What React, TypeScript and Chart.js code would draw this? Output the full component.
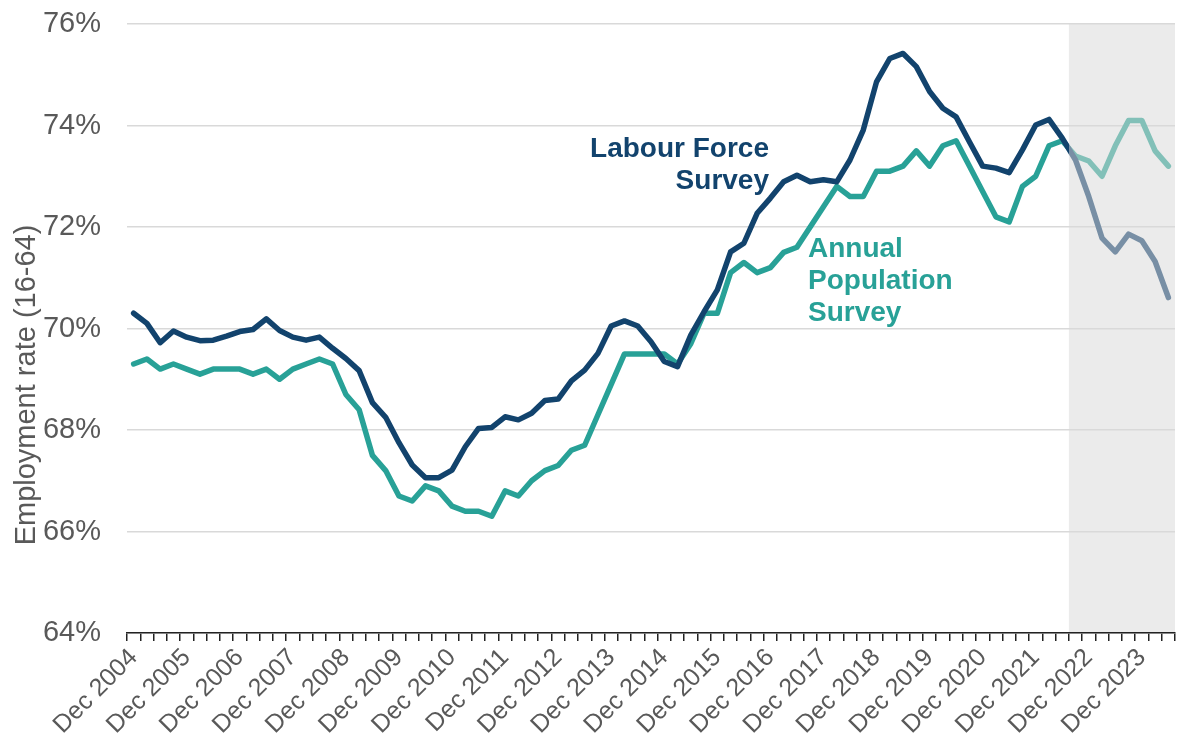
import React, { useEffect, useRef } from "react";
import { Chart, registerables } from "chart.js";

Chart.register(...registerables);

const QUARTERS: string[] = [
  "Dec 2004",
  "Mar 2005", "Jun 2005", "Sep 2005", "Dec 2005",
  "Mar 2006", "Jun 2006", "Sep 2006", "Dec 2006",
  "Mar 2007", "Jun 2007", "Sep 2007", "Dec 2007",
  "Mar 2008", "Jun 2008", "Sep 2008", "Dec 2008",
  "Mar 2009", "Jun 2009", "Sep 2009", "Dec 2009",
  "Mar 2010", "Jun 2010", "Sep 2010", "Dec 2010",
  "Mar 2011", "Jun 2011", "Sep 2011", "Dec 2011",
  "Mar 2012", "Jun 2012", "Sep 2012", "Dec 2012",
  "Mar 2013", "Jun 2013", "Sep 2013", "Dec 2013",
  "Mar 2014", "Jun 2014", "Sep 2014", "Dec 2014",
  "Mar 2015", "Jun 2015", "Sep 2015", "Dec 2015",
  "Mar 2016", "Jun 2016", "Sep 2016", "Dec 2016",
  "Mar 2017", "Jun 2017", "Sep 2017", "Dec 2017",
  "Mar 2018", "Jun 2018", "Sep 2018", "Dec 2018",
  "Mar 2019", "Jun 2019", "Sep 2019", "Dec 2019",
  "Mar 2020", "Jun 2020", "Sep 2020", "Dec 2020",
  "Mar 2021", "Jun 2021", "Sep 2021", "Dec 2021",
  "Mar 2022", "Jun 2022", "Sep 2022", "Dec 2022",
  "Mar 2023", "Jun 2023", "Sep 2023", "Dec 2023",
  "Mar 2024", "Jun 2024",
];

const LFS: number[] = [
  70.30,
  70.10, 69.72, 69.95, 69.83,
  69.76, 69.77, 69.85, 69.94,
  69.98, 70.19, 69.96, 69.83,
  69.77, 69.83, 69.61, 69.41,
  69.17, 68.54, 68.25, 67.75,
  67.31, 67.06, 67.06, 67.21,
  67.67, 68.03, 68.05, 68.26,
  68.20, 68.33, 68.58, 68.61,
  68.97, 69.18, 69.51, 70.05,
  70.15, 70.05, 69.74, 69.35,
  69.25, 69.87, 70.33, 70.76,
  71.51, 71.68, 72.27, 72.57,
  72.89, 73.02, 72.89, 72.93,
  72.89, 73.32, 73.91, 74.86,
  75.32, 75.42, 75.16, 74.67,
  74.34, 74.17, 73.68, 73.20,
  73.16, 73.07, 73.52, 74.01,
  74.12, 73.75, 73.32, 72.60,
  71.78, 71.51, 71.86, 71.73,
  71.32, 70.61,
];

const APS: number[] = [
  69.3,
  69.4, 69.2, 69.3, 69.2,
  69.1, 69.2, 69.2, 69.2,
  69.1, 69.2, 69.0, 69.2,
  69.3, 69.4, 69.3, 68.7,
  68.4, 67.5, 67.2, 66.7,
  66.6, 66.9, 66.8, 66.5,
  66.4, 66.4, 66.3, 66.8,
  66.7, 67.0, 67.2, 67.3,
  67.6, 67.7, 68.3, 68.9,
  69.5, 69.5, 69.5, 69.5,
  69.3, 69.7, 70.3, 70.3,
  71.1, 71.3, 71.1, 71.2,
  71.5, 71.6, 72.0, 72.4,
  72.8, 72.6, 72.6, 73.1,
  73.1, 73.2, 73.5, 73.2,
  73.6, 73.7, 73.2, 72.7,
  72.2, 72.1, 72.8, 73.0,
  73.6, 73.7, 73.4, 73.3,
  73.0, 73.6, 74.1, 74.1,
  73.5, 73.2,
];

const Y_MIN = 64;
const Y_MAX = 76;
const Y_STEP = 2;
const SHADE_FROM = "Sep 2022";

const NAVY = "#12436D";
const NAVY_LIGHT = "#788FA5";
const TEAL = "#28A197";
const TEAL_LIGHT = "#82C0B8";
const SHADE = "#EBEBEB";
const TEXT_GREY = "#595959";
const FONT = "'Liberation Sans', Arial, sans-serif";

function shadeBoundary(chart: any): number {
  const idx = QUARTERS.indexOf(SHADE_FROM);
  return chart.scales.x.getPixelForValue(idx - 0.5);
}

function splitColor(dark: string, light: string) {
  return (ctx: any) => {
    const chart = ctx.chart;
    const area = chart.chartArea;
    if (!area || !chart.scales || !chart.scales.x) return dark;
    const xb = shadeBoundary(chart);
    const t = Math.min(1, Math.max(0, (xb - area.left) / (area.right - area.left)));
    const g = chart.ctx.createLinearGradient(area.left, 0, area.right, 0);
    g.addColorStop(0, dark);
    g.addColorStop(t, dark);
    g.addColorStop(t, light);
    g.addColorStop(1, light);
    return g;
  };
}

const shadePlugin = {
  id: "forecastShade",
  beforeDraw(chart: any) {
    const { ctx, chartArea: a } = chart;
    if (!a) return;
    const xb = shadeBoundary(chart);
    ctx.save();
    ctx.fillStyle = SHADE;
    ctx.fillRect(xb, a.top, a.right - xb, a.bottom - a.top);
    ctx.restore();
  },
};

const textPlugin = {
  id: "labels",
  afterDraw(chart: any) {
    const { ctx } = chart;
    ctx.save();
    // series labels
    ctx.font = `bold 28px ${FONT}`;
    ctx.textBaseline = "alphabetic";
    ctx.fillStyle = NAVY;
    ctx.textAlign = "right";
    ctx.fillText("Labour Force", 769, 157);
    ctx.fillText("Survey", 769, 189);
    ctx.fillStyle = TEAL;
    ctx.textAlign = "left";
    ctx.fillText("Annual", 808, 257);
    ctx.fillText("Population", 808, 289);
    ctx.fillText("Survey", 808, 321);
    // y axis title
    ctx.translate(35, 385);
    ctx.rotate(-Math.PI / 2);
    ctx.font = `29px ${FONT}`;
    ctx.fillStyle = TEXT_GREY;
    ctx.textAlign = "center";
    ctx.textBaseline = "alphabetic";
    ctx.fillText("Employment rate (16-64)", 0, 0);
    ctx.restore();
  },
};

export default function App() {
  const ref = useRef<HTMLCanvasElement | null>(null);

  useEffect(() => {
    if (!ref.current) return;
    const chart = new Chart(ref.current, {
      type: "line",
      data: {
        labels: QUARTERS,
        datasets: [
          {
            label: "Labour Force Survey",
            data: LFS,
            borderColor: splitColor(NAVY, NAVY_LIGHT) as any,
            borderWidth: 5.5,
            pointRadius: 0,
            tension: 0,
            borderJoinStyle: "round",
            borderCapStyle: "round",
            fill: false,
          },
          {
            label: "Annual Population Survey",
            data: APS,
            borderColor: splitColor(TEAL, TEAL_LIGHT) as any,
            borderWidth: 5.5,
            pointRadius: 0,
            tension: 0,
            borderJoinStyle: "round",
            borderCapStyle: "round",
            fill: false,
          },
        ],
      },
      options: {
        responsive: false,
        animation: false,
        devicePixelRatio: 1,
        layout: { padding: { top: 24, right: 2, left: 0, bottom: 0 } },
        plugins: {
          legend: { display: false },
          tooltip: { enabled: false },
          title: { display: false },
        },
        scales: {
          x: {
            type: "category",
            offset: true,
            grid: {
              offset: true,
              drawOnChartArea: false,
              drawTicks: true,
              tickLength: 8,
              color: "#222222",
              lineWidth: 1.5,
            },
            border: { display: true, color: "#222222", width: 1.5 },
            ticks: {
              autoSkip: false,
              minRotation: 45,
              maxRotation: 45,
              padding: 2,
              color: TEXT_GREY,
              font: { family: FONT, size: 25 },
              callback: (_v: any, i: number) =>
                QUARTERS[i].startsWith("Dec") ? QUARTERS[i] : "",
            },
            afterFit: (scale: any) => {
              scale.height = 111;
              scale.paddingLeft = 0;
              scale.paddingRight = 0;
            },
          },
          y: {
            min: Y_MIN,
            max: Y_MAX,
            grid: { color: "#D9D9D9", lineWidth: 1.5, drawTicks: false },
            border: { display: false },
            ticks: {
              stepSize: Y_STEP,
              padding: 26,
              color: TEXT_GREY,
              font: { family: FONT, size: 29 },
              callback: (v: any) => `${v}%`,
            },
            afterFit: (scale: any) => {
              scale.width = 127;
              scale.paddingTop = 0;
              scale.paddingBottom = 0;
            },
          },
        },
      },
      plugins: [shadePlugin, textPlugin],
    });
    return () => chart.destroy();
  }, []);

  return (
    <div style={{ position: "absolute", left: 0, top: 0, width: 1177, height: 744 }}>
      <canvas ref={ref} width={1177} height={744} style={{ display: "block" }} />
    </div>
  );
}
